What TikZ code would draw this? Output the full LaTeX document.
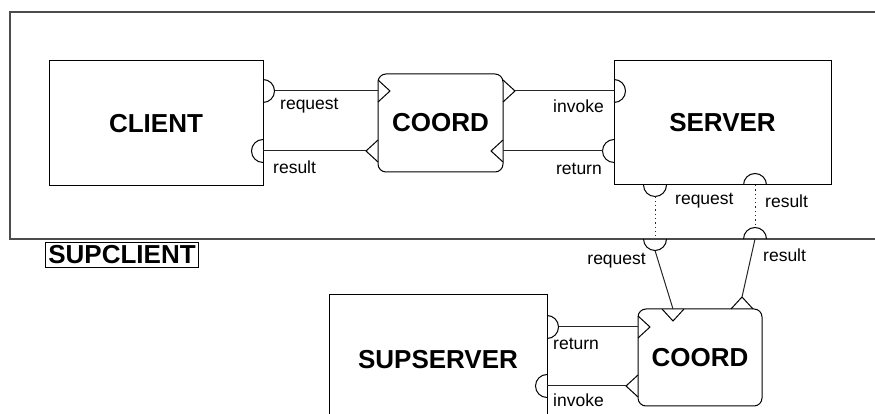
\documentclass[tikz,border=0pt]{standalone}
\usepackage{fontspec}
\setmainfont{Liberation Sans}
\usepackage{tikz}

\tikzset{
  compbox/.style={draw, line width=1pt, inner sep=0pt, font=\fontsize{26}{30}\selectfont\bfseries},
  coordbox/.style={compbox, rounded corners=8pt},
  lbl/.style={inner sep=1pt, font=\fontsize{17.5}{20}\selectfont},
  wire/.style={line width=1pt, black!85},
  % half circle port, bulging towards +x
  plug/.pic={\draw[line width=1pt] (0,11.5) arc[start angle=90,end angle=-90,radius=11.5];
    \coordinate (-at) at (0,0); \coordinate (-end) at (11.5,0);},
  % triangle port, pointing towards +x
  tri/.pic={\draw[line width=1pt] (0,11) -- (12,0) -- (0,-11);
    \coordinate (-at) at (0,0); \coordinate (-end) at (12,0);}
}

\begin{document}
\begin{tikzpicture}[x=1pt,y=1pt]
    \useasboundingbox (0,0) rectangle (875,414);
    \clip (0,0) rectangle (875,414);

    % outer frame
    \draw[black!70, line width=1.5pt] (890,402) -- (10,402) -- (10,175) -- (890,175);
    \node[compbox, inner sep=3pt, minimum height=24pt] (supclient) at (122,159) {SUPCLIENT};

    \node[compbox, minimum width=214pt, minimum height=125pt] (client) at (156,290.5) {CLIENT};
    \node[coordbox, minimum width=125pt, minimum height=98pt] (coordA) at (440.5,291) {COORD};
    \node[compbox, minimum width=217pt, minimum height=124pt] (server) at (722.5,291) {SERVER};
    \node[compbox, minimum width=218pt, minimum height=130pt] (supserver) at (438,54) {SUPSERVER};
    \node[coordbox, minimum width=124pt, minimum height=97pt] (coordB) at (700,56.5) {COORD};

    % ports
    \pic (creq) at (263,323) {plug};
    \pic[rotate=180] (cres) at (263,263) {plug};
    \pic (kareq) at (378,323) {tri};
    \pic[rotate=180] (kares) at (378,263) {tri};
    \pic (kainv) at (503,323) {tri};
    \pic[rotate=180] (karet) at (503,263) {tri};
    \pic (sinv) at (614,323) {plug};
    \pic[rotate=180] (sret) at (614,263) {plug};
    \pic[rotate=-90] (sreq) at (655,229) {plug};
    \pic[rotate=90] (sres) at (755,229) {plug};
    \pic[rotate=-90] (breq) at (655,175) {plug};
    \pic[rotate=90] (bres) at (755,175) {plug};
    \pic[rotate=-90] (kbreq) at (673,105) {tri};
    \pic[rotate=90] (kbres) at (742,105) {tri};
    \pic (ssret) at (547,87) {plug};
    \pic[rotate=180] (ssinv) at (547,28) {plug};
    \pic (kbret) at (638,87) {tri};
    \pic[rotate=180] (kbinv) at (638,28) {tri};

    % connections
    \draw[wire] (creq-end) -- (kareq-at);
    \draw[wire] (cres-at) -- (kares-end);
    \draw[wire] (kainv-end) -- (sinv-at);
    \draw[wire] (sret-end) -- (karet-at);
    \draw[wire, dash pattern=on 1.3pt off 3pt] (sreq-end) -- (breq-at);
    \draw[wire, dash pattern=on 1.3pt off 3pt] (sres-at) -- (bres-end);
    \draw[wire] (breq-end) -- (kbreq-at);
    \draw[wire] (bres-at) -- (kbres-end);
    \draw[wire] (ssret-end) -- (kbret-at);
    \draw[wire] (ssinv-at) -- (kbinv-end);

    % port names
    \node[lbl, anchor=west] (n1) at (279,308) {request};
    \node[lbl, anchor=west] (n2) at (272,247) {result};
    \node[lbl, anchor=east] (n3) at (605,308) {invoke};
    \node[lbl, anchor=east] (n4) at (603,245) {return};
    \node[lbl, anchor=west] (n5) at (674,213) {request};
    \node[lbl, anchor=west] (n6) at (764,213) {result};
    \node[lbl, anchor=east] (n7) at (647,153) {request};
    \node[lbl, anchor=west] (n8) at (762,159) {result};
    \node[lbl, anchor=west] (n9) at (552,70) {return};
    \node[lbl, anchor=west] (n10) at (552,14) {invoke};
\end{tikzpicture}
\end{document}
